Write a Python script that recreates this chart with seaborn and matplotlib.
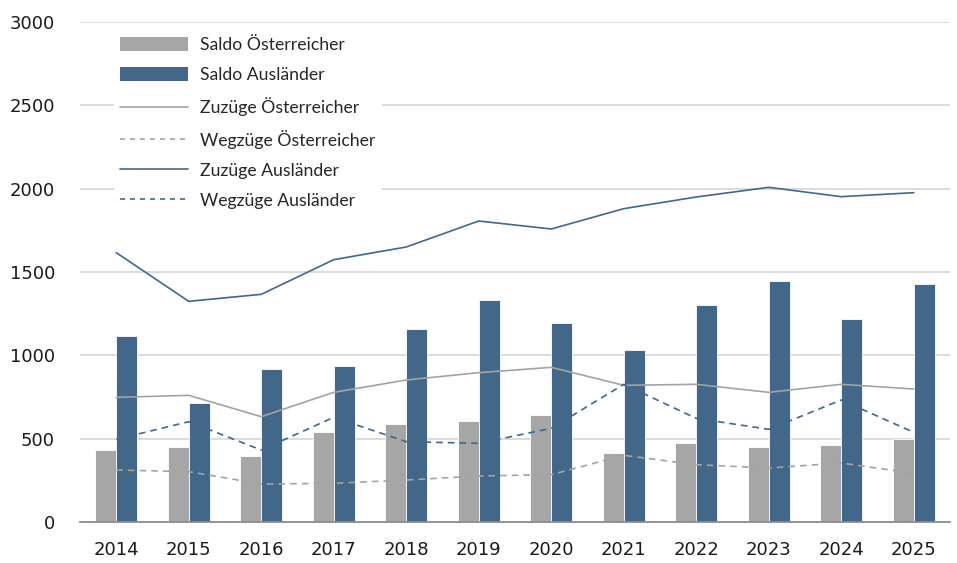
import matplotlib
matplotlib.use("Agg")
import matplotlib.pyplot as plt
import seaborn as sns
import pandas as pd
import numpy as np
from matplotlib.patches import Patch
from matplotlib.lines import Line2D

years = ["2014", "2015", "2016", "2017", "2018", "2019", "2020", "2021", "2022", "2023", "2024", "2025"]
saldo_oe = [432, 452, 394, 538, 586, 608, 640, 414, 472, 448, 464, 500]
saldo_aus = [1114, 716, 918, 936, 1156, 1330, 1192, 1034, 1302, 1444, 1218, 1430]
zuzuege_oe = [748, 760, 632, 778, 852, 896, 928, 820, 826, 778, 826, 798]
wegzuege_oe = [312, 302, 228, 232, 252, 276, 284, 400, 344, 324, 354, 292]
zuzuege_aus = [1616, 1324, 1366, 1574, 1650, 1806, 1758, 1880, 1950, 2008, 1952, 1976]
wegzuege_aus = [496, 602, 432, 628, 482, 472, 562, 826, 622, 556, 732, 538]

GRAY_BAR = "#a6a6a6"
BLUE_BAR = "#436789"
GRAY_LINE = "#a3a3a3"
BLUE_LINE = "#3f6791"

sns.set_theme(style="white")
plt.rcParams["font.family"] = ["DejaVu Sans"]

fig = plt.figure(figsize=(9.57, 5.63), dpi=100)
ax = fig.add_axes([80 / 957, 41 / 563, 870 / 957, 500 / 563])

bars = pd.DataFrame({
    "Jahr": years * 2,
    "Wert": saldo_oe + saldo_aus,
    "Serie": ["Saldo Österreicher"] * len(years) + ["Saldo Ausländer"] * len(years),
})
sns.barplot(data=bars, x="Jahr", y="Wert", hue="Serie", order=years,
            palette=[GRAY_BAR, BLUE_BAR], width=0.58, gap=0, dodge=True,
            edgecolor="white", linewidth=0.6, saturation=1, legend=False, ax=ax, zorder=2)

pos = np.arange(len(years))
line_specs = [
    (zuzuege_oe, GRAY_LINE, "-", "Zuzüge Österreicher"),
    (wegzuege_oe, GRAY_LINE, (0, (4, 3)), "Wegzüge Österreicher"),
    (zuzuege_aus, BLUE_LINE, "-", "Zuzüge Ausländer"),
    (wegzuege_aus, BLUE_LINE, (0, (4, 3)), "Wegzüge Ausländer"),
]
for vals, col, ls, lab in line_specs:
    sns.lineplot(x=pos, y=vals, color=col, linestyle=ls, linewidth=1.2, ax=ax, zorder=3)

ax.set_xlim(-0.5, 11.5)
ax.set_ylim(0, 3000)
ax.set_yticks(range(0, 3001, 500))
ax.set_xticks(pos)
ax.set_xticklabels(years)
ax.set_xlabel("")
ax.set_ylabel("")
ax.yaxis.grid(True, color="#d9d9d9", linewidth=1.3)
ax.set_axisbelow(True)
for s in ["top", "right", "left"]:
    ax.spines[s].set_visible(False)
ax.spines["bottom"].set_color("#8c8c8c")
ax.spines["bottom"].set_linewidth(1.3)
ax.tick_params(axis="both", length=0, labelsize=13, colors="#1a1a1a")
ax.tick_params(axis="y", pad=18)
ax.tick_params(axis="x", pad=13.5)

handles = [
    Patch(facecolor=GRAY_BAR, edgecolor="none", label="Saldo Österreicher"),
    Patch(facecolor=BLUE_BAR, edgecolor="none", label="Saldo Ausländer"),
    Line2D([], [], color=GRAY_LINE, lw=1.2, label="Zuzüge Österreicher"),
    Line2D([], [], color=GRAY_LINE, lw=1.2, ls=(0, (3, 3)), label="Wegzüge Österreicher"),
    Line2D([], [], color=BLUE_LINE, lw=1.2, label="Zuzüge Ausländer"),
    Line2D([], [], color=BLUE_LINE, lw=1.2, ls=(0, (3, 3)), label="Wegzüge Ausländer"),
]
leg = ax.legend(handles=handles, loc="upper left", bbox_to_anchor=(0.039, 0.982),
                frameon=True, fancybox=False, framealpha=1, edgecolor="none",
                facecolor="white", borderpad=0.35, borderaxespad=0,
                handlelength=3.85, handleheight=0.8,
                handletextpad=0.68, labelspacing=0.79,
                prop={"family": "Lato", "size": 12.7})
leg.set_zorder(5)

fig.savefig("out.png", dpi=100)
